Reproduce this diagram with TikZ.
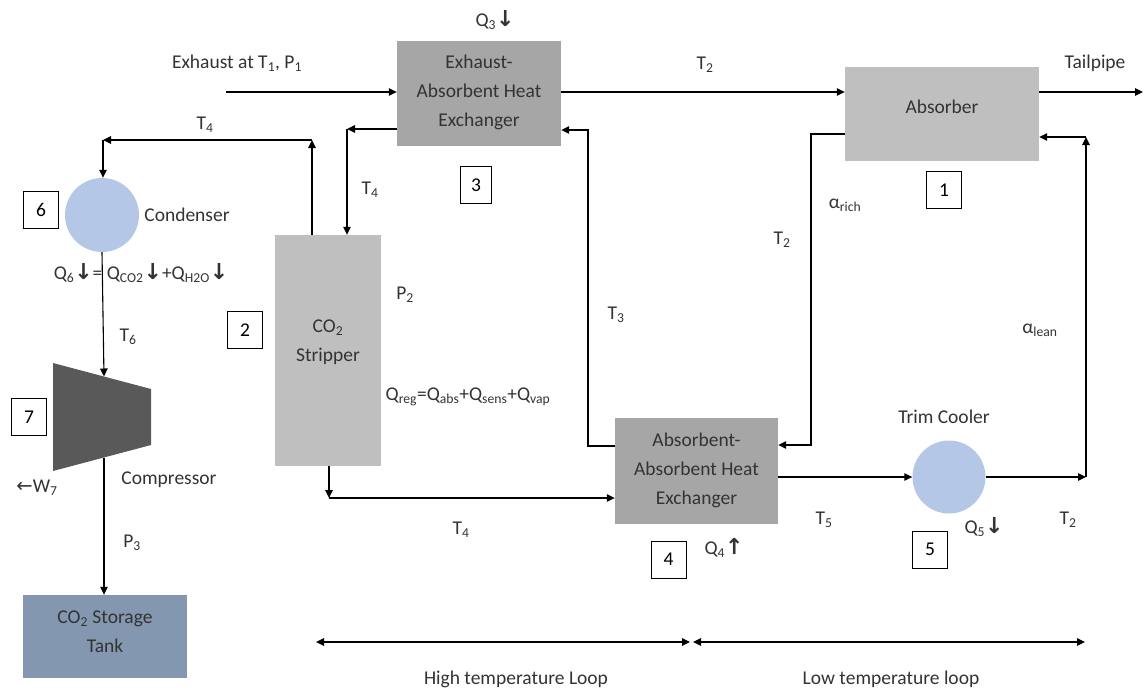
\documentclass[tikz,border=0pt]{standalone}
\usepackage{fontspec}
\setmainfont{Carlito}
\newfontfamily\arrowfont{DejaVu Sans}
\usetikzlibrary{arrows.meta,calc}
\newcommand{\sbs}[1]{\textsubscript{#1}}
\newcommand{\dnar}{{\arrowfont\bfseries\fontsize{22}{29}\selectfont ↓}}
\newcommand{\upar}{{\arrowfont\bfseries\fontsize{22}{29}\selectfont ↑}}
\newcommand{\lfar}{{\arrowfont ←}}
\definecolor{hxgray}{HTML}{A6A6A6}
\definecolor{ltgray}{HTML}{BFBFBF}
\definecolor{coolblue}{HTML}{B4C7E7}
\definecolor{compgray}{HTML}{595959}
\definecolor{tankblue}{HTML}{8497B0}
\definecolor{txt}{HTML}{333333}
\begin{document}
\begin{tikzpicture}[x=1pt,y=-1pt,
  every node/.style={font=\fontsize{19.5}{29}\selectfont, text=txt},
  lbl/.style={inner sep=0pt, align=center},
  flow/.style={line width=1.1pt, -{Triangle[length=8pt,width=7.5pt]}},
  dflow/.style={line width=1.1pt, {Triangle[length=8pt,width=7.5pt]}-{Triangle[length=8pt,width=7.5pt]}},
  unit/.style={rectangle, inner sep=0pt},
  numbox/.style={draw=black, line width=0.9pt, minimum width=35pt, minimum height=37pt, inner sep=0pt, text=black},
  vessel/.style={circle, fill=coolblue, minimum size=74pt, inner sep=0pt}
]
\useasboundingbox (0,0) rectangle (1144,691);

% units
\node[unit, fill=hxgray, minimum width=164pt, minimum height=105pt] (hx3) at (479,93.5) {};
\node[unit, fill=ltgray, minimum width=194pt, minimum height=94pt] (abs) at (942,114) {};
\node[unit, fill=ltgray, minimum width=106pt, minimum height=231pt] (strip) at (328,350.5) {};
\node[unit, fill=hxgray, minimum width=163pt, minimum height=106pt] (aahx) at (696.5,471) {};
\node[unit, fill=tankblue, minimum width=164pt, minimum height=83pt] (tank) at (105,636.5) {};
\node[vessel] (cond) at (102,215) {};
\node[vessel, minimum size=73pt] (trim) at (949,477) {};
\fill[compgray] (53,363) -- (151,389) -- (151,445) -- (53,471) -- cycle;
\coordinate (comptop) at (104,376.5);
\coordinate (compbot) at (104,457.5);

% unit texts
\node[lbl] (hx3t) at (479,92) {Exhaust-\\Absorbent Heat\\Exchanger};
\node[lbl] (abst) at (942,107) {Absorber};
\node[lbl] (stript) at (328,342) {CO\sbs{2}\\Stripper};
\node[lbl] (aahxt) at (696.5,470) {Absorbent-\\Absorbent Heat\\Exchanger};
\node[lbl] (tankt) at (105,632) {CO\sbs{2} Storage\\Tank};

% number boxes
\node[numbox] (n1) at (944,190) {1};
\node[numbox] (n2) at (245,330) {2};
\node[numbox, minimum width=31pt] (n3) at (476,185) {3};
\node[numbox] (n4) at (668.5,559.5) {4};
\node[numbox] (n5) at (930,549.5) {5};
\node[numbox] (n6) at (41,209.5) {6};
\node[numbox] (n7) at (29,417) {7};

% coordinates
\coordinate (exin) at (226,92);
\coordinate (tail) at (1143,92);
\coordinate (c1) at (347,129);
\coordinate (c2) at (312,140);
\coordinate (c3) at (103,140);
\coordinate (c4) at (329,498);
\coordinate (c5) at (588,446);
\coordinate (c6) at (588,130);
\coordinate (c7) at (811,134);
\coordinate (c8) at (811,445);
\coordinate (c9) at (1086,477);
\coordinate (c10) at (1086,137);
\coordinate (b1) at (316,642);
\coordinate (b2) at (690,642);
\coordinate (b3) at (693,642);
\coordinate (b4) at (1085,642);

% connectors
\draw[flow] (exin) -- (exin -| hx3.west);
\draw[flow] (hx3.east |- exin) -- (abs.west |- exin);
\draw[flow] (abs.east |- tail) -- (tail);
\draw[flow] (hx3.west |- c1) -- (c1);
\draw[flow] (c1) -- (c1 |- strip.north);
\draw[flow] (c2 |- strip.north) -- (c2);
\draw[flow] (c2) -- (c3);
\draw[flow] (c3) -- (c3 |- cond.north);
\draw[flow] (cond.south) -- (comptop);
\draw[flow] (compbot) -- (compbot |- tank.north);
\draw[flow] (c4 |- strip.south) -- (c4);
\draw[flow] (c4) -- (c4 -| aahx.west);
\draw[flow] (aahx.west |- c5) -- (c5) -- (c6) -- (c6 -| hx3.east);
\draw[flow] (abs.west |- c7) -- (c7) -- (c8) -- (c8 -| aahx.east);
\draw[flow] (aahx.east |- trim.west) -- (trim.west);
\draw[flow] (trim.east) -- (c9);
\draw[flow] (c9) -- (c10);
\draw[flow] (c10) -- (c10 -| abs.east);
\draw[dflow] (b1) -- (b2);
\draw[dflow] (b3) -- (b4);

% labels
\node[lbl] at (237,63) {Exhaust at T\sbs{1}, P\sbs{1}};
\node[lbl] at (495,20) {Q\sbs{3}\dnar};
\node[lbl] at (705,65) {T\sbs{2}};
\node[lbl] at (1095,63) {Tailpipe};
\node[lbl] at (205,125) {T\sbs{4}};
\node[lbl] at (370,190) {T\sbs{4}};
\node[lbl] at (187,215) {Condenser};
\node[lbl] at (845,205) {α\sbs{rich}};
\node[lbl] at (782,240) {T\sbs{2}};
\node[lbl] at (141,273) {Q\sbs{6}\dnar= Q\sbs{CO2}\dnar+Q\sbs{H2O}\dnar};
\node[lbl] at (405,295) {P\sbs{2}};
\node[lbl] at (616,315) {T\sbs{3}};
\node[lbl] at (128,337) {T\sbs{6}};
\node[lbl] at (1040,330) {α\sbs{lean}};
\node[lbl] at (468,397) {Q\sbs{reg}=Q\sbs{abs}+Q\sbs{sens}+Q\sbs{vap}};
\node[lbl] at (944,417) {Trim Cooler};
\node[lbl] at (169,480) {Compressor};
\node[lbl] at (37,488) {\lfar W\sbs{7}};
\node[lbl] at (824,520) {T\sbs{5}};
\node[lbl] at (984,527) {Q\sbs{5}\dnar};
\node[lbl] at (1068,520) {T\sbs{2}};
\node[lbl] at (461,530) {T\sbs{4}};
\node[lbl] at (724,548) {Q\sbs{4}\upar};
\node[lbl] at (132,543) {P\sbs{3}};
\node[lbl] at (516,679) {High temperature Loop};
\node[lbl] at (891,679) {Low temperature loop};
\end{tikzpicture}
\end{document}
